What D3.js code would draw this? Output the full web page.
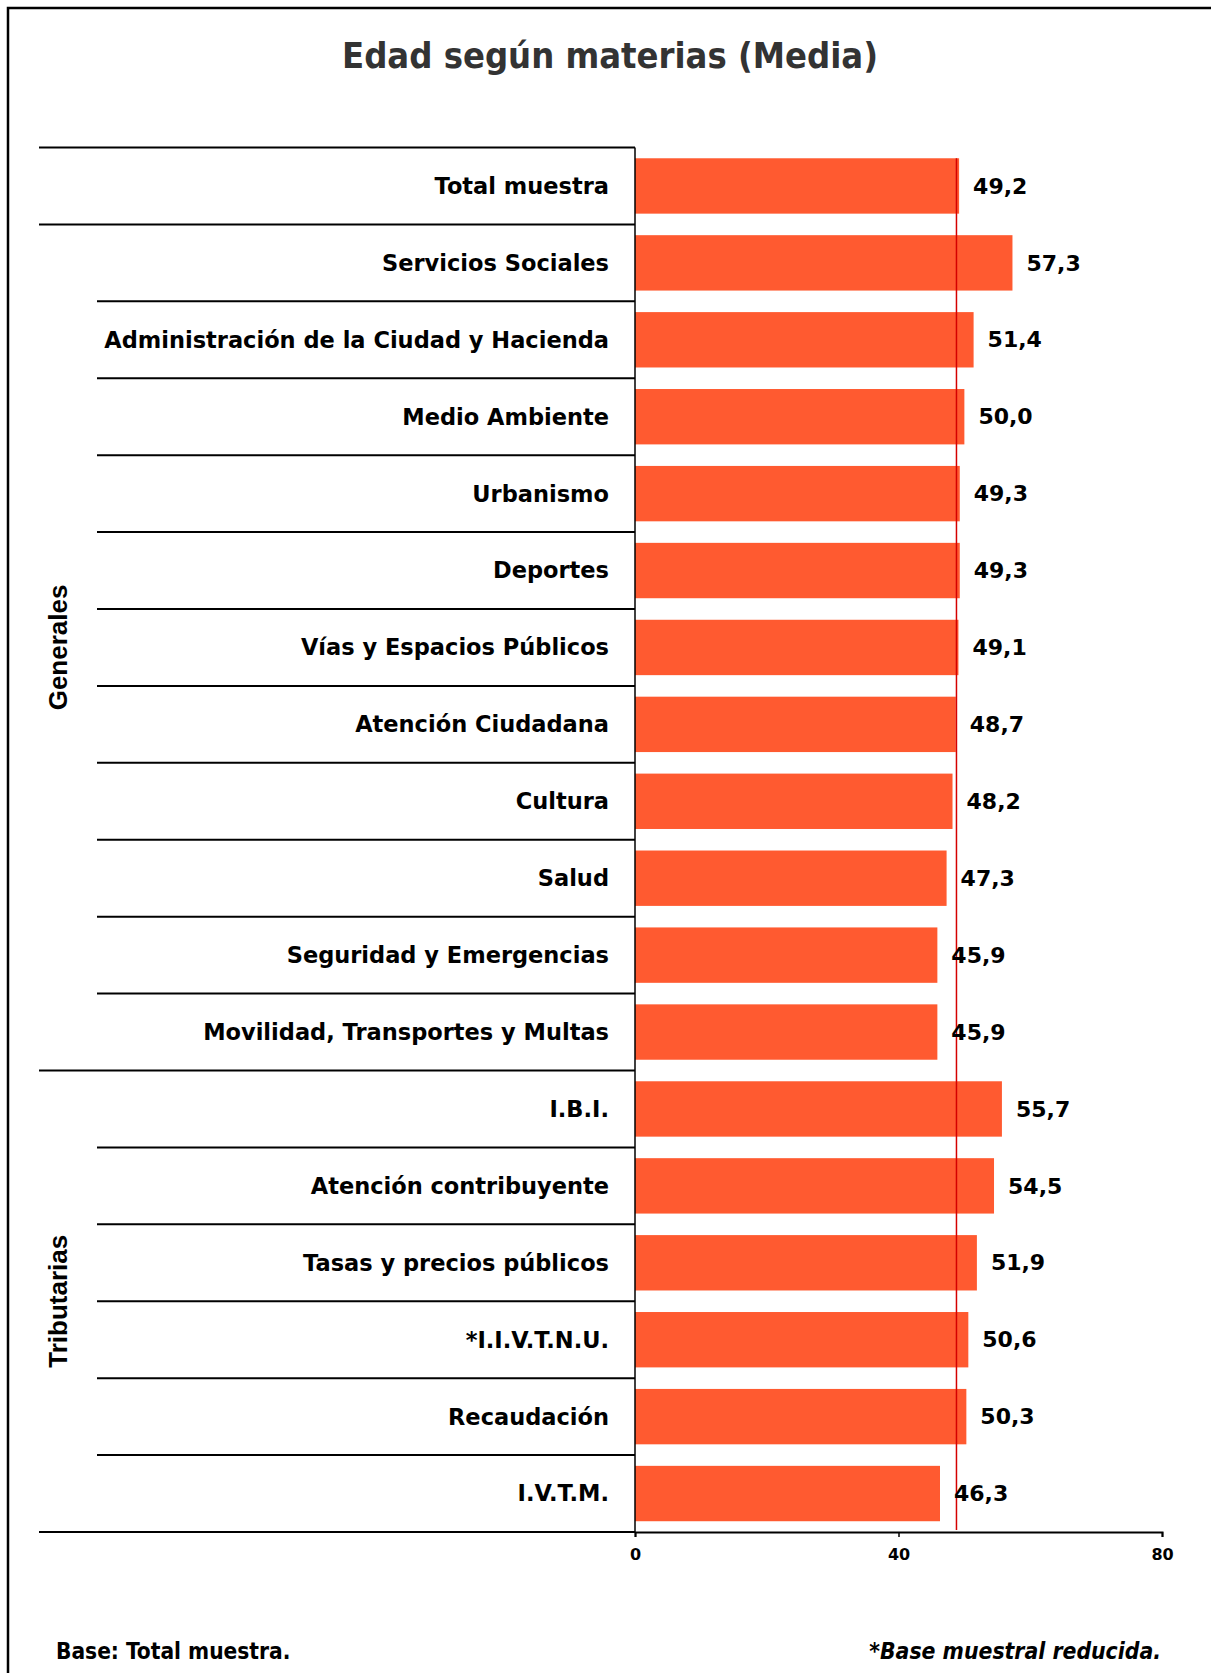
<!DOCTYPE html>
<html>
<head>
<meta charset="utf-8">
<script src="https://cdn.jsdelivr.net/npm/d3@7"></script>
<style>
  body { margin: 0; background: #fff; }
  svg text { font-family: "DejaVu Sans Condensed", "DejaVu Sans", sans-serif; font-weight: bold; }
</style>
</head>
<body>
<svg id="chart"></svg>
<script>
const categories = [
    "Total muestra",
    "Servicios Sociales",
    "Administración de la Ciudad y Hacienda",
    "Medio Ambiente",
    "Urbanismo",
    "Deportes",
    "Vías y Espacios Públicos",
    "Atención Ciudadana",
    "Cultura",
    "Salud",
    "Seguridad y Emergencias",
    "Movilidad, Transportes y Multas",
    "I.B.I.",
    "Atención contribuyente",
    "Tasas y precios públicos",
    "*I.I.V.T.N.U.",
    "Recaudación",
    "I.V.T.M."
];
const values = [49.2, 57.3, 51.4, 50.0, 49.3, 49.3, 49.1, 48.7, 48.2, 47.3, 45.9, 45.9, 55.7, 54.5, 51.9, 50.6, 50.3, 46.3];
const groups = [
    { name: "Generales", first: 1, last: 11 },
    { name: "Tributarias", first: 12, last: 17 }
];
const xTicks = [0, 40, 80];
const refLine = 48.8;

const svgWidth = 1211, svgHeight = 1673;
const svg = d3.select("#chart").attr("width", svgWidth).attr("height", svgHeight);

// frame (only top and left visible)
svg.append("path")
    .attr("d", "M8,1673 V8 H1211")
    .attr("fill", "none")
    .attr("stroke", "#000")
    .attr("stroke-width", 2.5);

svg.append("text")
    .attr("x", 610).attr("y", 68)
    .attr("text-anchor", "middle")
    .attr("fill", "#333")
    .style("font-size", "36px")
    .text("Edad según materias (Media)");

const x = d3.scaleLinear().domain([0, 80]).range([635, 1162]);
const y = d3.scaleBand().domain(d3.range(categories.length)).range([147.5, 1532]).paddingInner(0.28).paddingOuter(0.14);
const step = y.step();
const rowTop = i => 147.5 + i * step;

// bars
svg.append("g").selectAll("rect")
    .data(values)
    .join("rect")
    .attr("x", x(0))
    .attr("y", (d, i) => y(i))
    .attr("width", d => x(d) - x(0))
    .attr("height", y.bandwidth())
    .attr("fill", "#ff5a30");

// row separators
const sepStarts = categories.map((c, i) => {
    if (i === 0 || i === 1 || i === 12) return 39;
    return 97;
});
svg.append("g").selectAll("line")
    .data(sepStarts)
    .join("line")
    .attr("x1", d => d).attr("x2", x(0))
    .attr("y1", (d, i) => rowTop(i)).attr("y2", (d, i) => rowTop(i))
    .attr("stroke", "#000")
    .attr("stroke-width", 2);

// vertical axis line
svg.append("line")
    .attr("x1", x(0)).attr("x2", x(0))
    .attr("y1", rowTop(0)).attr("y2", rowTop(categories.length))
    .attr("stroke", "#000").attr("stroke-width", 1.5);

// bottom axis
const axisY = rowTop(categories.length);
svg.append("line")
    .attr("x1", 39).attr("x2", x(0))
    .attr("y1", axisY).attr("y2", axisY)
    .attr("stroke", "#000").attr("stroke-width", 2);

const xAxis = svg.append("g")
    .attr("transform", "translate(0," + axisY + ")")
    .call(d3.axisBottom(x).tickValues(xTicks).tickSize(5).tickPadding(12));
xAxis.select(".domain").attr("stroke-width", 2);
xAxis.selectAll(".tick line").attr("stroke-width", 1.5);
xAxis.selectAll("text")
    .attr("fill", "#000")
    .style("font-family", "'DejaVu Sans', sans-serif")
    .style("font-weight", "bold")
    .style("font-size", "16px");

// reference line
svg.append("line")
    .attr("x1", x(refLine)).attr("x2", x(refLine))
    .attr("y1", y(0)).attr("y2", axisY - 2)
    .attr("stroke", "#d40000").attr("stroke-width", 1.5);

// category labels
svg.append("g").selectAll("text")
    .data(categories)
    .join("text")
    .attr("x", 609)
    .attr("y", (d, i) => rowTop(i) + step / 2)
    .attr("dy", "0.35em")
    .attr("text-anchor", "end")
    .attr("fill", "#000")
    .style("font-family", "'DejaVu Sans', sans-serif")
    .style("font-size", "22.5px")
    .text(d => d);

// value labels
svg.append("g").selectAll("text")
    .data(values)
    .join("text")
    .attr("x", d => x(d) + 14)
    .attr("y", (d, i) => y(i) + y.bandwidth() / 2)
    .attr("dy", "0.35em")
    .attr("fill", "#000")
    .style("font-family", "'DejaVu Sans', sans-serif")
    .style("font-size", "22px")
    .text(d => d.toFixed(1).replace(".", ","));

// group labels
svg.append("g").selectAll("text")
    .data(groups)
    .join("text")
    .attr("transform", d => "translate(58," + ((rowTop(d.first) + rowTop(d.last + 1)) / 2) + ") rotate(-90)")
    .attr("dy", "0.35em")
    .attr("text-anchor", "middle")
    .attr("fill", "#000")
    .style("font-family", "'Liberation Sans', Arial, sans-serif")
    .style("font-size", "26px")
    .text(d => d.name);

// footnotes
svg.append("text")
    .attr("x", 56).attr("y", 1659)
    .attr("fill", "#000")
    .style("font-size", "22.5px")
    .text("Base: Total muestra.");

svg.append("text")
    .attr("x", 1161).attr("y", 1659)
    .attr("text-anchor", "end")
    .attr("fill", "#000")
    .style("font-size", "22.75px")
    .style("font-style", "italic")
    .text("*Base muestral reducida.");
</script>
</body>
</html>
